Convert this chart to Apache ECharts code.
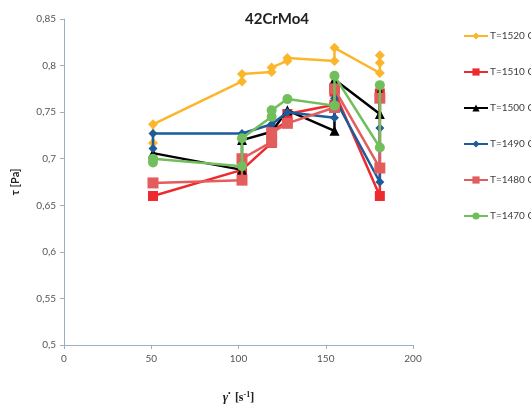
<!DOCTYPE html>
<html>
<head>
<meta charset="utf-8">
<script src="https://cdn.jsdelivr.net/npm/echarts@6/dist/echarts.min.js"></script>
<style>html,body{margin:0;padding:0;background:#fff}#c{width:531px;height:410px}</style>
</head>
<body>
<div id="c"></div>
<script>
var seriesNames = ['T=1520 C', 'T=1510 C', 'T=1500 C', 'T=1490 C', 'T=1480 C', 'T=1470 C'];
var x1520 = [51, 51, 102, 102, 119, 119, 128, 128, 155, 155, 181, 181, 181];
var y1520 = [0.717, 0.737, 0.783, 0.791, 0.793, 0.798, 0.805, 0.808, 0.805, 0.819, 0.792, 0.803, 0.811];
var x1510 = [51, 102, 119, 119, 128, 128, 155, 155, 181, 181];
var y1510 = [0.660, 0.688, 0.717, 0.730, 0.740, 0.748, 0.758, 0.772, 0.660, 0.770];
var x1500 = [51, 102, 102, 119, 128, 155, 155, 181, 181];
var y1500 = [0.706, 0.688, 0.720, 0.729, 0.752, 0.730, 0.785, 0.748, 0.772];
var x1490 = [51, 51, 102, 119, 128, 155, 155, 181, 181];
var y1490 = [0.711, 0.727, 0.727, 0.737, 0.750, 0.744, 0.765, 0.675, 0.733];
var x1480 = [51, 102, 102, 119, 119, 128, 155, 155, 181, 181];
var y1480 = [0.674, 0.677, 0.700, 0.718, 0.728, 0.738, 0.755, 0.775, 0.690, 0.765];
var x1470 = [51, 51, 102, 102, 119, 119, 128, 155, 155, 181, 181];
var y1470 = [0.696, 0.700, 0.692, 0.722, 0.745, 0.752, 0.764, 0.757, 0.789, 0.712, 0.779];
var xTicks = [0, 50, 100, 150, 200];
var yTicks = [0.5, 0.55, 0.6, 0.65, 0.7, 0.75, 0.8, 0.85];

function pairs(xs, ys) { return xs.map(function (x, i) { return [x, ys[i]]; }); }

var xsAll = [x1520, x1510, x1500, x1490, x1480, x1470];
var ysAll = [y1520, y1510, y1500, y1490, y1480, y1470];
var colors = ['#FBB62C', '#EE2A2E', '#000000', '#1D5C9C', '#E35D5D', '#70BE5C'];
var symbols = ['diamond', 'rect', 'triangle', 'diamond', 'rect', 'circle'];
var sizes = [10, 10, 10, 9, 11, 10];
var FONT = 'Lato, "Open Sans", sans-serif';

var chart = echarts.init(document.getElementById('c'), null, { renderer: 'canvas' });
chart.setOption({
  animation: false,
  backgroundColor: '#fff',
  title: {
    text: '42CrMo4', left: 272, top: 7, textAlign: 'center',
    textStyle: { fontSize: 15, fontWeight: 'bold', color: '#222', fontFamily: FONT }
  },
  legend: {
    orient: 'vertical', left: 458, top: 26, itemGap: 26, itemWidth: 24, itemHeight: 9,
    data: seriesNames,
    textStyle: { fontSize: 10, color: '#404040', fontFamily: FONT, padding: [0, 0, 0, -3] }
  },
  grid: { left: 64, right: 118, top: 19, bottom: 65, containLabel: false },
  xAxis: {
    type: 'value', min: 0, max: 200, interval: 50,
    name: '{g|γ̇}  {b|[s}{s|-1}{b|]}', nameLocation: 'middle', nameGap: 46,
    nameTextStyle: {
      rich: {
        g: { fontFamily: 'Liberation Serif, serif', fontStyle: 'italic', fontWeight: 'bold', fontSize: 13, color: '#222' },
        b: { fontFamily: 'Liberation Serif, serif', fontWeight: 'bold', fontSize: 12, color: '#222' },
        s: { fontFamily: 'Liberation Serif, serif', fontWeight: 'bold', fontSize: 8, color: '#222', verticalAlign: 'top', padding: [0, 0, 6, 0] }
      }
    },
    axisLine: { show: true, lineStyle: { color: '#9DAFC2', width: 1 } },
    axisTick: { show: true, length: 4, lineStyle: { color: '#9DAFC2' } },
    splitLine: { show: false },
    axisLabel: { fontSize: 10, color: '#555', fontFamily: FONT, margin: 9 }
  },
  yAxis: {
    type: 'value', min: 0.5, max: 0.85, interval: 0.05,
    name: 'τ [Pa]', nameLocation: 'middle', nameGap: 43, nameRotate: 90,
    nameTextStyle: { fontSize: 11, fontWeight: 'bold', color: '#222', fontFamily: FONT },
    axisLine: { show: true, lineStyle: { color: '#9DAFC2', width: 1 } },
    axisTick: { show: true, length: 4, lineStyle: { color: '#9DAFC2' } },
    splitLine: { show: false },
    axisLabel: {
      fontSize: 10, color: '#555', fontFamily: FONT, margin: 8,
      formatter: function (v) {
        var t = yTicks.find(function (k) { return Math.abs(k - v) < 1e-9; });
        return String(+(t !== undefined ? t : v).toFixed(2)).replace('.', ',');
      }
    }
  },
  series: seriesNames.map(function (n, i) {
    return {
      name: n, type: 'line', data: pairs(xsAll[i], ysAll[i]),
      symbol: symbols[i], symbolSize: sizes[i],
      lineStyle: { color: colors[i], width: 2.5 },
      itemStyle: { color: colors[i] },
      z: 2 + i
    };
  })
});
</script>
</body>
</html>
